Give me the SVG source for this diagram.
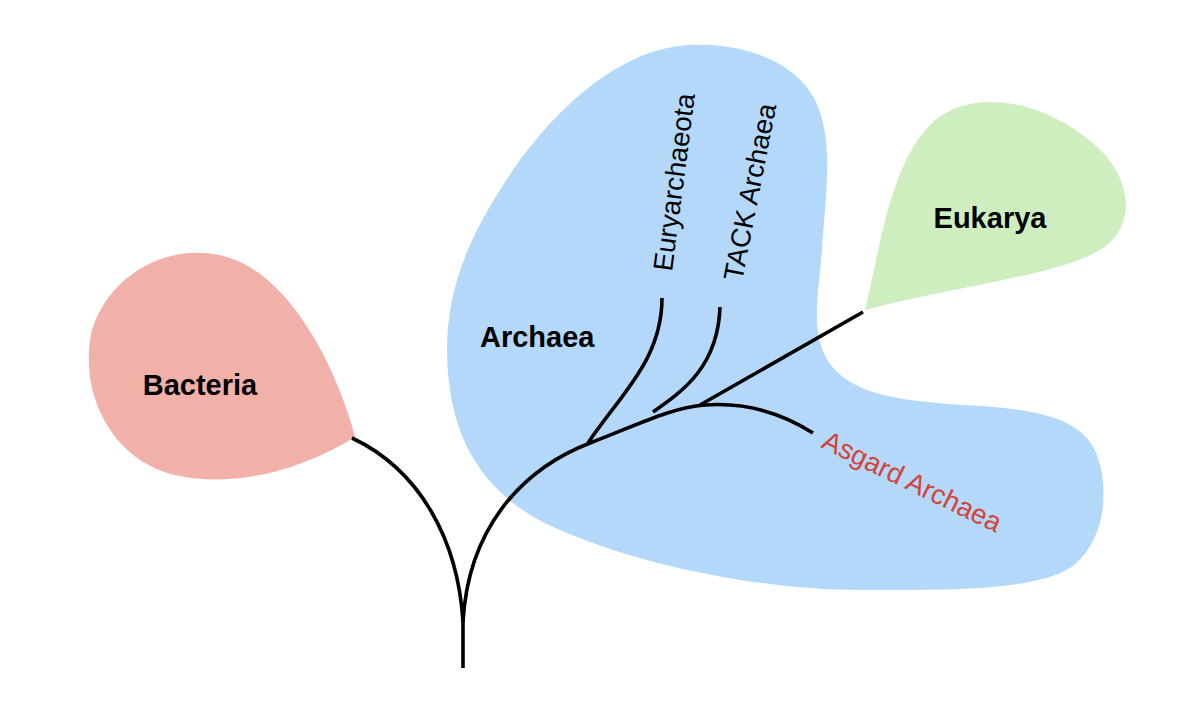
<svg xmlns="http://www.w3.org/2000/svg" width="1188" height="704" viewBox="0 0 1188 704">
<style>
.bold{font-family:"Liberation Sans",Arial,sans-serif;font-weight:bold;font-size:29px;fill:#000}
.lab{font-family:"Liberation Sans",Arial,sans-serif;font-size:27.5px;fill:#000}
.red{fill:#d4433b}
.br{fill:none;stroke:#000;stroke-width:3.6;stroke-linecap:butt}
</style>
<rect width="1188" height="704" fill="#fff"/>
<g id="archaea">
<path d="M690,45 C740,42 795,60 815,100 C835,140 825,200 822,250 C818,300 808,340 835,370 C860,395 900,400 950,404 C1010,408 1070,410 1092,445 C1110,475 1110,540 1070,568 C1030,592 940,590 860,590 C760,590 640,565 560,530 C500,505 460,460 450,390 C440,320 455,260 500,190 C550,110 620,48 690,45 Z" fill="#b3d8fa"/>
<text class="bold" x="480" y="347">Archaea</text>
</g>
<g id="bacteria">
<path d="M355,437 C340,380 300,290 240,262 C180,235 110,270 92,330 C78,390 110,460 175,475 C240,490 310,465 355,437 Z" fill="#f1b1a9"/>
<text class="bold" x="200" y="395" text-anchor="middle">Bacteria</text>
</g>
<g id="eukarya">
<path d="M865,310 C880,250 890,160 935,120 C980,85 1050,105 1095,145 C1130,175 1140,225 1100,250 C1060,275 960,285 865,310 Z" fill="#ceeebf"/>
<text class="bold" x="990" y="228" text-anchor="middle">Eukarya</text>
</g>
<g id="euryarchaeota">
<text class="lab" transform="translate(672,272) rotate(-82.6)">Euryarchaeota</text>
</g>
<g id="tack">
<text class="lab" transform="translate(742,282) rotate(-79)">TACK Archaea</text>
</g>
<g id="asgard">
<text class="lab red" transform="translate(820,447) rotate(26)">Asgard Archaea</text>
</g>
<g id="connectors">
<path class="br" d="M463,668 L463,620"/>
<path class="br" d="M463,622 C458,540 420,470 352,438"/>
<path class="br" d="M463,622 C468,530 520,470 590,443 C642,423 670,408 705,405 C750,402 785,415 813,433"/>
<path class="br" d="M588,443 C620,395 662,360 662,298"/>
<path class="br" d="M653,412 C685,390 718,365 720,307"/>
<path class="br" d="M700,405 L863,312"/>
</g>
</svg>
